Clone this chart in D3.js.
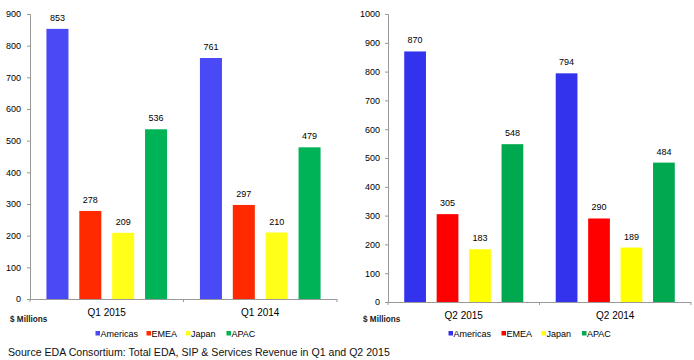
<!DOCTYPE html>
<html><head><meta charset="utf-8">
<script src="https://cdn.jsdelivr.net/npm/d3@7"></script>
<style>body{margin:0;background:#fff}svg{display:block;font-family:"Liberation Sans",Arial,sans-serif}</style>
</head><body><svg id="c" width="694" height="360"></svg>
<script>
const regions = ["Americas","EMEA","Japan","APAC"];
const leftCategories = ["Q1 2015","Q1 2014"];
const leftValues = [[853,278,209,536],[761,297,210,479]];
const rightCategories = ["Q2 2015","Q2 2014"];
const rightValues = [[870,305,183,548],[794,290,189,484]];
const leftTicks = [0,100,200,300,400,500,600,700,800,900];
const rightTicks = [0,100,200,300,400,500,600,700,800,900,1000];
const leftColors = ["#4949f5","#ff2a00","#ffff1a","#00b356"];
const rightColors = ["#3333ee","#ff0000","#ffff00","#00a84f"];
const sourceText = "Source EDA Consortium: Total EDA, SIP & Services Revenue in Q1 and Q2 2015";
const unitLabel = "$ Millions";

const svg = d3.select("#c");

function panel(cfg){
  const g = svg.append("g");
  const y = d3.scaleLinear().domain([0,cfg.max]).range([cfg.y0,cfg.y1]);
  const x0 = d3.scaleBand().domain(cfg.cats).range([cfg.xa,cfg.xb]);
  const x1 = d3.scaleBand().domain(regions).range([0,x0.bandwidth()]).paddingInner(0.33).paddingOuter(0.5);
  // y axis
  const ya = g.append("g").attr("transform",`translate(${cfg.xa},0)`)
    .call(d3.axisLeft(y).tickValues(cfg.ticks).tickSize(3).tickPadding(cfg.tickPad).tickFormat(d3.format("d")));
  ya.select(".domain").attr("stroke","#999");
  ya.selectAll(".tick line").attr("stroke","#999");
  ya.selectAll(".tick text").attr("font-size",9).attr("fill","#000");
  // bars
  cfg.cats.forEach((c,i)=>{
    const gg = g.append("g").attr("transform",`translate(${x0(c)},0)`);
    regions.forEach((r,j)=>{
      const v = cfg.vals[i][j];
      gg.append("rect").attr("x",x1(r)).attr("width",x1.bandwidth())
        .attr("y",y(v)).attr("height",y(0)-y(v)).attr("fill",cfg.colors[j]);
      gg.append("text").attr("x",x1(r)+x1.bandwidth()/2).attr("y",y(v)-8)
        .attr("text-anchor","middle").attr("font-size",9).text(v);
    });
  });
  // x axis
  const xa = g.append("g");
  xa.append("line").attr("x1",cfg.xa).attr("x2",cfg.xb).attr("y1",y(0)+0.5).attr("y2",y(0)+0.5).attr("stroke","#999");
  const bounds = [cfg.xa].concat(cfg.cats.map(c=>x0(c)+x0.bandwidth()));
  bounds.forEach(b=>xa.append("line").attr("x1",b).attr("x2",b).attr("y1",y(0)).attr("y2",y(0)+3).attr("stroke","#999"));
  cfg.cats.forEach(c=>xa.append("text").attr("x",x0(c)+x0.bandwidth()/2).attr("y",y(0)+17)
    .attr("text-anchor","middle").attr("font-size",10).text(c));
  // units
  g.append("text").attr("x",cfg.unitX).attr("y",322).attr("font-size",8.2).attr("font-weight","bold").attr("fill","#222").text(unitLabel);
  // legend
  const lg = g.append("g");
  regions.forEach((r,j)=>{
    lg.append("rect").attr("x",cfg.legX[j]).attr("y",331).attr("width",4.5).attr("height",4.5).attr("fill",cfg.colors[j]);
    lg.append("text").attr("x",cfg.legX[j]+5).attr("y",336.5).attr("font-size",9).text(r);
  });
}

panel({cats:leftCategories,vals:leftValues,ticks:leftTicks,max:900,y0:299,y1:14,xa:30,xb:337,colors:leftColors,tickPad:6,unitX:10,legX:[95.5,146.5,186,226.5]});
panel({cats:rightCategories,vals:rightValues,ticks:rightTicks,max:1000,y0:302,y1:14,xa:388,xb:691,colors:rightColors,tickPad:5,unitX:363,legX:[448.5,501.5,541.5,582]});

svg.append("text").attr("x",8).attr("y",356).attr("font-size",10.6).attr("fill","#111").text(sourceText);
</script></body></html>
